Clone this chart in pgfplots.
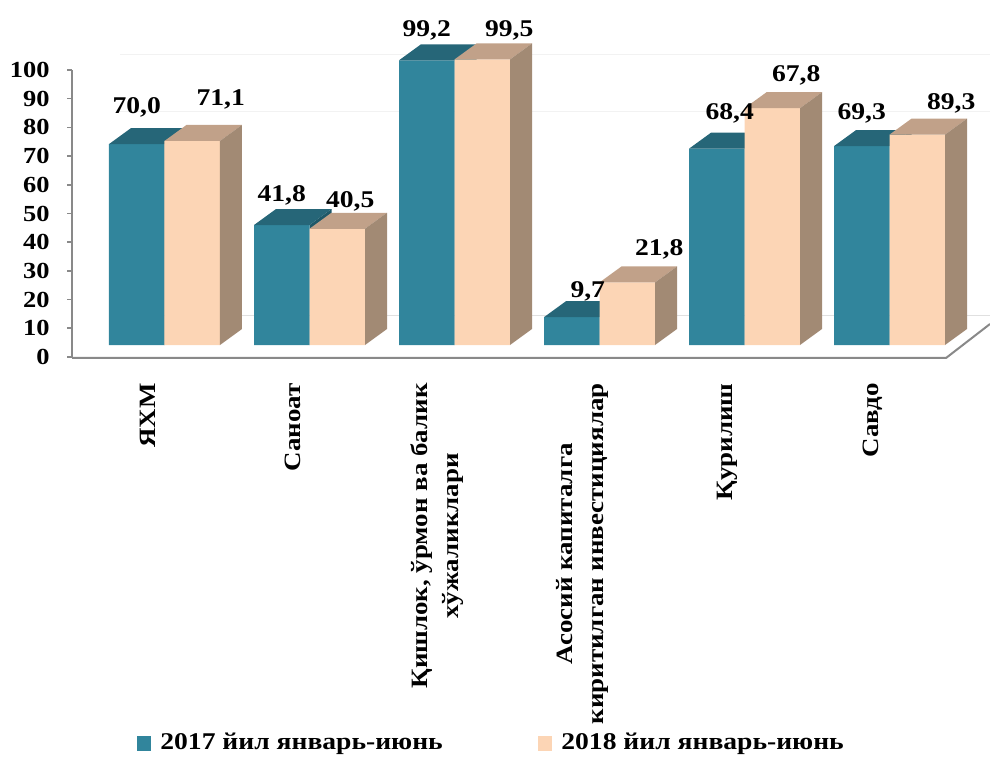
\documentclass[border=0pt]{standalone}
\usepackage{fontspec}
\setmainfont{Liberation Serif}[FakeStretch=1.15]
\usepackage{pgfplots}
\pgfplotsset{compat=1.18}
\usepackage{pgfplotstable}

\definecolor{tealF}{RGB}{49,133,156}
\definecolor{tealT}{RGB}{38,102,120}
\definecolor{tealS}{RGB}{30,88,104}
\definecolor{beigeF}{RGB}{252,213,181}
\definecolor{beigeT}{RGB}{193,161,137}
\definecolor{beigeS}{RGB}{162,138,116}
\definecolor{axgray}{RGB}{137,137,137}

% 3D faces drawn as marks at each bar top (category centre), H from the bar value
\pgfdeclareplotmark{topA}{%
  \pgfsetfillcolor{tealT}%
  \pgfpathmoveto{\pgfqpoint{-27.75pt}{0pt}}%
  \pgfpathlineto{\pgfqpoint{0pt}{0pt}}%
  \pgfpathlineto{\pgfqpoint{11pt}{8pt}}%
  \pgfpathlineto{\pgfqpoint{-16.75pt}{8pt}}%
  \pgfpathclose\pgfusepathqfill}
\pgfdeclareplotmark{sideA}{%
  \pgfsetfillcolor{tealS}%
  \pgfpathmoveto{\pgfqpoint{0pt}{0pt}}%
  \pgfpathlineto{\pgfqpoint{11pt}{8pt}}%
  \pgfpathlineto{\pgfpoint{11pt}{8pt-\hval*1.435pt}}%
  \pgfpathlineto{\pgfpoint{0pt}{-\hval*1.435pt}}%
  \pgfpathclose\pgfusepathqfill}
\pgfdeclareplotmark{topB}{%
  \pgfsetfillcolor{beigeT}%
  \pgfpathmoveto{\pgfqpoint{0pt}{0pt}}%
  \pgfpathlineto{\pgfqpoint{27.75pt}{0pt}}%
  \pgfpathlineto{\pgfqpoint{38.75pt}{8pt}}%
  \pgfpathlineto{\pgfqpoint{11pt}{8pt}}%
  \pgfpathclose\pgfusepathqfill}
\pgfdeclareplotmark{sideB}{%
  \pgfsetfillcolor{beigeS}%
  \pgfpathmoveto{\pgfqpoint{27.75pt}{0pt}}%
  \pgfpathlineto{\pgfqpoint{38.75pt}{8pt}}%
  \pgfpathlineto{\pgfpoint{38.75pt}{8pt-\hval*1.435pt}}%
  \pgfpathlineto{\pgfpoint{27.75pt}{-\hval*1.435pt}}%
  \pgfpathclose\pgfusepathqfill}

\pgfplotstableread{
x h label lx ly
0 70.0 70,0 0 31
1 41.8 41,8 0 24
2 99.2 99,2 0 24
3 9.7 9,7 16 20
4 68.4 68,4 13 29
5 69.3 69,3 0 27
}\dataA

\pgfplotstableread{
x h label lx ly
0 71.1 71,1 28.5 35
1 40.5 40,5 13 21
2 99.5 99,5 27 23
3 21.8 21,8 32 27
4 82.5 67,8 24 27
5 73.3 89,3 34 25
}\dataB

\pgfplotsset{
  face/.style={scatter, only marks, point meta=y, forget plot,
    scatter/@pre marker code/.code={\pgfscope},
    scatter/@post marker code/.code={\endpgfscope},
    visualization depends on={rawy \as \hval}},
  lbl/.style={ybar, bar width=27.75pt, draw=none, fill=none, forget plot,
    nodes near coords, point meta=explicit symbolic,
    visualization depends on={\thisrow{lx} \as \lx},
    visualization depends on={\thisrow{ly} \as \ly},
    every node near coord/.style={anchor=base, inner sep=0pt,
      xshift=(\lx+#1)*0.5pt, yshift=\ly*0.5pt,
      font=\bfseries\fontsize{12}{14}\selectfont, text=black}},
}

\begin{document}
\begin{tikzpicture}
\useasboundingbox (0,0) rectangle (495pt,378pt);
% faint back lines
\draw[black!12, line width=0.5pt] (55pt,220pt) -- (495pt,220pt);
\draw[black!5, line width=0.5pt] (60pt,350.5pt) -- (495pt,350.5pt);
\draw[black!5, line width=0.5pt] (60pt,322pt) -- (495pt,322pt);

% y axis
\begin{axis}[
  at={(36pt,199.5pt)}, anchor=south west,
  x=1pt, y=1.435pt, xmin=0, xmax=1, ymin=0, ymax=100,
  axis x line=none, axis y line*=left,
  y axis line style={axgray, line width=1pt},
  ytick={0,10,...,100},
  tick align=outside, major tick length=2.5pt,
  ytick style={axgray, line width=0.8pt},
  yticklabel style={font=\bfseries\fontsize{11.5}{14}\selectfont, inner sep=0pt, anchor=east, xshift=-8.5pt},
  /pgf/number format/assume math mode=true,
  clip=false,
]
\end{axis}

% floor front edge
\draw[axgray, line width=1pt] (36pt,199pt) -- (473pt,199pt) -- (495pt,216pt);

% bars
\begin{axis}[
  at={(36pt,205.5pt)}, anchor=south west,
  x=72.5pt, y=1.435pt,
  xmin=-0.6379, xmax=5.693, ymin=0, ymax=100,
  clip=false, clip marker paths=true,
  axis line style={draw=none},
  ytick=\empty,
  xtick={0,...,5},
  major tick length=0pt,
  xticklabels={ЯХМ, Саноат, {Қишлок, ўрмон ва балик\\хўжаликлари}, {Асосий капиталга\\киритилган инвестициялар}, Қурилиш, Савдо},
  xticklabel style={font=\bfseries\fontsize{11.7}{15.5}\selectfont, inner sep=0pt,
     xshift=-8.5pt, yshift=-19pt, rotate=90, anchor=east, align=center},
  legend columns=2,
  legend style={at={(0.0708,-1.3868)}, anchor=west, draw=none, fill=none,
     inner sep=0pt, font=\bfseries\fontsize{12}{14}\selectfont,
     nodes={inner sep=0pt, anchor=west},
     /tikz/every odd column/.append style={column sep=4.5pt},
     /tikz/every even column/.append style={column sep=47pt}},
]
\addplot[face, mark=sideA] table[x=x, y=h] {\dataA};
\addplot[ybar, bar width=27.75pt, bar shift=-13.875pt, fill=tealF, draw=none,
  legend image code/.code={\fill[tealF] (0pt,-3.75pt) rectangle (7pt,3.75pt);}]
  table[x=x, y=h] {\dataA};
\addlegendentry{\makebox[142pt][l]{2017 йил январь-июнь}}
\addplot[face, mark=topA] table[x=x, y=h] {\dataA};
\addplot[ybar, bar width=27.75pt, bar shift=13.875pt, fill=beigeF, draw=none,
  legend image code/.code={\fill[beigeF] (0pt,-3.75pt) rectangle (7pt,3.75pt);}]
  table[x=x, y=h] {\dataB};
\addlegendentry{2018 йил январь-июнь}
\addplot[face, mark=topB] table[x=x, y=h] {\dataB};
\addplot[face, mark=sideB] table[x=x, y=h] {\dataB};
% value labels
\addplot[lbl=-27.75] table[x=x, y=h, meta=label] {\dataA};
\addplot[lbl=27.75] table[x=x, y=h, meta=label] {\dataB};
\end{axis}
\end{tikzpicture}
\end{document}
